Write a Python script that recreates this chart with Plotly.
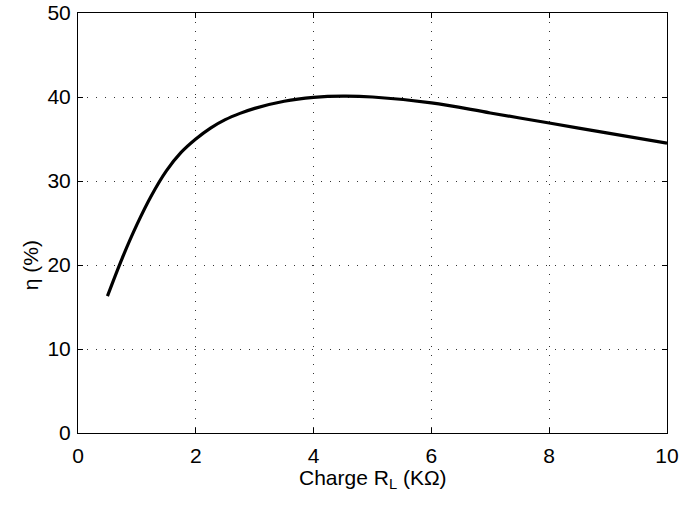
import plotly.graph_objects as go

# Load resistance R_L (kOhm) and efficiency eta (%)
r_load = [0.5, 0.75, 1.0, 1.25, 1.5, 1.75, 2.0, 2.25, 2.5, 2.75, 3.0, 3.5, 4.0, 4.5,
          5.0, 6.0, 7.0, 8.0, 9.0, 10.0]
eta = [16.3, 20.8, 24.8, 28.3, 31.2, 33.4, 35.0, 36.3, 37.3, 38.05, 38.65, 39.5, 39.95, 40.1,
       40.0, 39.3, 38.1, 36.9, 35.7, 34.5]

x_ticks = [0, 2, 4, 6, 8, 10]
y_ticks = [0, 10, 20, 30, 40, 50]

FONT = "Liberation Sans, Arial, Helvetica, sans-serif"

fig = go.Figure()
fig.add_trace(go.Scatter(x=r_load, y=eta, mode="lines",
                         line=dict(color="black", width=3.2, shape="spline", smoothing=1.0),
                         showlegend=False))

axis_common = dict(
    showline=True, linecolor="black", linewidth=1, mirror="ticks",
    ticks="inside", ticklen=5, tickcolor="black", tickwidth=1,
    showgrid=True, gridcolor="#333333", gridwidth=1, griddash="1px,8px",
    zeroline=False, automargin=False,
    tickfont=dict(family=FONT, size=21, color="black"),
)

fig.update_xaxes(range=[0, 10], tickvals=x_ticks, ticktext=[str(v) for v in x_ticks],
                 ticklabelstandoff=4, **axis_common)
fig.update_yaxes(range=[0, 50], tickvals=y_ticks, ticktext=[str(v) for v in y_ticks],
                 ticklabelstandoff=2, **axis_common)

fig.add_annotation(text="Charge R<sub>L</sub> (KΩ)", xref="paper", yref="paper",
                   x=0.5, y=-0.109, xanchor="center", yanchor="middle", showarrow=False,
                   font=dict(family=FONT, size=21, color="black"))
fig.add_annotation(text="η (%)", xref="paper", yref="paper", textangle=-90,
                   x=-0.081, y=0.40, xanchor="center", yanchor="middle", showarrow=False,
                   font=dict(family=FONT, size=21, color="black"))

fig.update_layout(width=683, height=506, paper_bgcolor="white", plot_bgcolor="white",
                  template="none",
                  margin=dict(l=77.7, r=15.7, t=13.3, b=72.7))

fig.write_html("out.html", config={"displayModeBar": False},
               post_script="document.body.style.margin='0';document.body.style.overflow='hidden';")
